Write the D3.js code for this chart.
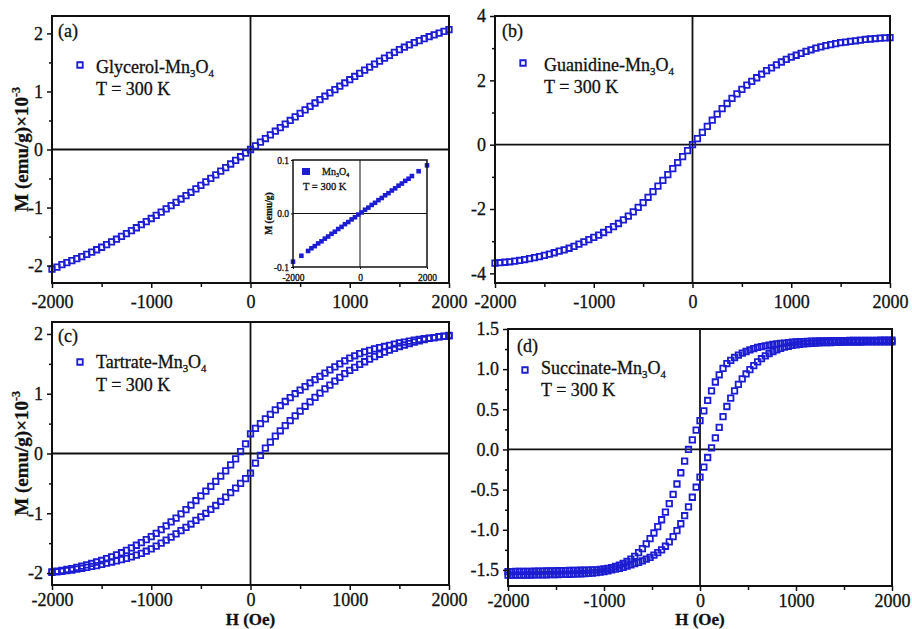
<!DOCTYPE html>
<html>
<head>
<meta charset="utf-8">
<script src="https://cdn.jsdelivr.net/npm/d3@7"></script>
<style>
  body { margin: 0; background: #fff; }
  svg text { font-family: "Liberation Serif", "Times New Roman", serif; fill: #111; stroke: #111; stroke-width: 0.3; }
</style>
</head>
<body>
<svg id="fig" width="912" height="629"></svg>
<script>
// ---------- data (magnetisation M in emu/g x 10^-3 vs applied field H in Oe) ----------
const fieldStep50 = [-2000,-1950,-1900,-1850,-1800,-1750,-1700,-1650,-1600,-1550,-1500,-1450,-1400,-1350,-1300,-1250,-1200,-1150,-1100,-1050,-1000,-950,-900,-850,-800,-750,-700,-650,-600,-550,-500,-450,-400,-350,-300,-250,-200,-150,-100,-50,0,50,100,150,200,250,300,350,400,450,500,550,600,650,700,750,800,850,900,950,1000,1050,1100,1150,1200,1250,1300,1350,1400,1450,1500,1550,1600,1650,1700,1750,1800,1850,1900,1950,2000];
const fieldStep40 = [-2000,-1960,-1920,-1880,-1840,-1800,-1760,-1720,-1680,-1640,-1600,-1560,-1520,-1480,-1440,-1400,-1360,-1320,-1280,-1240,-1200,-1160,-1120,-1080,-1040,-1000,-960,-920,-880,-840,-800,-760,-720,-680,-640,-600,-560,-520,-480,-440,-400,-360,-320,-280,-240,-200,-160,-120,-80,-40,0,40,80,120,160,200,240,280,320,360,400,440,480,520,560,600,640,680,720,760,800,840,880,920,960,1000,1040,1080,1120,1160,1200,1240,1280,1320,1360,1400,1440,1480,1520,1560,1600,1640,1680,1720,1760,1800,1840,1880,1920,1960,2000];

const glycerolM = [-2.06,-2.025,-1.983,-1.95,-1.916,-1.881,-1.845,-1.807,-1.768,-1.727,-1.684,-1.639,-1.593,-1.546,-1.498,-1.449,-1.399,-1.348,-1.296,-1.243,-1.189,-1.134,-1.079,-1.023,-0.967,-0.91,-0.853,-0.795,-0.737,-0.678,-0.618,-0.558,-0.497,-0.436,-0.374,-0.312,-0.25,-0.188,-0.125,-0.062,0,0.063,0.126,0.189,0.252,0.315,0.377,0.439,0.5,0.561,0.622,0.682,0.742,0.801,0.86,0.918,0.976,1.033,1.09,1.146,1.202,1.258,1.313,1.367,1.42,1.472,1.523,1.573,1.623,1.672,1.72,1.762,1.802,1.84,1.876,1.91,1.943,1.975,2.006,2.036,2.065];

const guanidineM = [-3.68,-3.67,-3.655,-3.64,-3.62,-3.60,-3.57,-3.54,-3.51,-3.48,-3.44,-3.40,-3.36,-3.31,-3.27,-3.22,-3.16,-3.09,-3.02,-2.95,-2.88,-2.81,-2.73,-2.64,-2.55,-2.45,-2.34,-2.22,-2.09,-1.95,-1.80,-1.635,-1.46,-1.29,-1.11,-0.93,-0.745,-0.555,-0.37,-0.185,0,0.19,0.38,0.57,0.76,0.95,1.12,1.28,1.44,1.58,1.72,1.85,1.97,2.08,2.19,2.30,2.39,2.48,2.57,2.65,2.72,2.78,2.84,2.90,2.95,3.00,3.04,3.08,3.11,3.14,3.17,3.19,3.21,3.23,3.25,3.27,3.285,3.30,3.31,3.32,3.33];

// hysteresis: field decreasing (upper branch) and field increasing (lower branch)
const tartrateDown = [-1.98,-1.97,-1.955,-1.94,-1.925,-1.905,-1.885,-1.865,-1.84,-1.815,-1.79,-1.76,-1.73,-1.695,-1.66,-1.62,-1.58,-1.535,-1.49,-1.44,-1.39,-1.335,-1.275,-1.21,-1.145,-1.08,-1.01,-0.94,-0.865,-0.79,-0.71,-0.63,-0.55,-0.465,-0.38,-0.29,-0.19,-0.09,0.03,0.16,0.33,0.42,0.50,0.58,0.655,0.73,0.80,0.87,0.935,1.00,1.06,1.12,1.18,1.235,1.29,1.345,1.40,1.45,1.50,1.55,1.595,1.635,1.67,1.70,1.725,1.75,1.77,1.79,1.81,1.83,1.85,1.865,1.88,1.895,1.91,1.92,1.93,1.94,1.95,1.96,1.97];
const tartrateUp = [-1.99,-1.98,-1.97,-1.96,-1.95,-1.935,-1.92,-1.905,-1.89,-1.875,-1.855,-1.835,-1.815,-1.795,-1.775,-1.755,-1.73,-1.70,-1.67,-1.635,-1.595,-1.55,-1.50,-1.45,-1.40,-1.345,-1.29,-1.235,-1.18,-1.12,-1.06,-1.00,-0.935,-0.87,-0.80,-0.73,-0.655,-0.58,-0.50,-0.42,-0.33,-0.16,-0.03,0.09,0.19,0.29,0.38,0.465,0.55,0.63,0.71,0.79,0.865,0.94,1.01,1.08,1.145,1.21,1.275,1.335,1.39,1.44,1.49,1.535,1.58,1.62,1.66,1.695,1.73,1.76,1.79,1.815,1.84,1.865,1.885,1.905,1.925,1.94,1.955,1.965,1.975];

// succinate values in emu/g (no 10^-3 factor)
const succinateDown = [-1.52,-1.52,-1.519,-1.519,-1.518,-1.518,-1.517,-1.516,-1.515,-1.514,-1.513,-1.512,-1.511,-1.51,-1.509,-1.508,-1.507,-1.506,-1.505,-1.504,-1.503,-1.502,-1.50,-1.498,-1.494,-1.488,-1.48,-1.47,-1.457,-1.44,-1.42,-1.395,-1.365,-1.33,-1.285,-1.235,-1.175,-1.11,-1.04,-0.96,-0.875,-0.78,-0.675,-0.56,-0.43,-0.29,-0.145,0.0,0.12,0.24,0.36,0.48,0.61,0.73,0.84,0.93,1.01,1.07,1.11,1.145,1.175,1.20,1.22,1.24,1.255,1.27,1.28,1.29,1.30,1.308,1.315,1.32,1.325,1.33,1.335,1.34,1.342,1.344,1.346,1.348,1.35,1.351,1.352,1.353,1.354,1.355,1.355,1.356,1.356,1.357,1.357,1.358,1.358,1.358,1.359,1.359,1.359,1.36,1.36,1.36,1.36];
const succinateUp = [-1.565,-1.565,-1.565,-1.564,-1.564,-1.563,-1.563,-1.562,-1.562,-1.561,-1.56,-1.559,-1.558,-1.557,-1.556,-1.555,-1.554,-1.552,-1.55,-1.548,-1.545,-1.542,-1.538,-1.533,-1.527,-1.52,-1.511,-1.50,-1.49,-1.48,-1.467,-1.453,-1.438,-1.422,-1.405,-1.387,-1.366,-1.343,-1.315,-1.285,-1.25,-1.205,-1.15,-1.085,-1.01,-0.925,-0.825,-0.715,-0.595,-0.47,-0.345,-0.22,-0.10,0.02,0.145,0.275,0.41,0.535,0.64,0.73,0.81,0.88,0.94,0.995,1.045,1.09,1.13,1.165,1.195,1.22,1.24,1.258,1.273,1.285,1.295,1.303,1.31,1.315,1.319,1.322,1.325,1.327,1.329,1.331,1.332,1.333,1.334,1.335,1.336,1.337,1.337,1.338,1.338,1.339,1.339,1.34,1.34,1.34,1.34,1.34,1.34];

// inset: bulk Mn3O4, emu/g
const insetField = [-2000,-1750,-1550,-1450,-1350,-1250,-1150,-1050,-950,-850,-750,-650,-550,-450,-350,-250,-150,-50,50,150,250,350,450,550,650,750,850,950,1050,1150,1250,1350,1450,1550,1750,2000];
const insetM = [-0.090,-0.079,-0.070,-0.065,-0.061,-0.056,-0.052,-0.047,-0.043,-0.038,-0.034,-0.029,-0.025,-0.020,-0.016,-0.011,-0.007,-0.002,0.002,0.007,0.011,0.016,0.020,0.025,0.029,0.034,0.038,0.043,0.047,0.052,0.056,0.061,0.065,0.070,0.079,0.090];

// tick values
const xTickValues = [-2000, -1000, 0, 1000, 2000];
const xMinorValues = [-1500, -500, 500, 1500];
const yTicksAC = [-2, -1, 0, 1, 2];
const yMinorAC = [-1.5, -0.5, 0.5, 1.5];
const yTicksB = [-4, -2, 0, 2, 4];
const yMinorB = [-3, -1, 1, 3];
const yTicksD = [-1.5, -1.0, -0.5, 0.0, 0.5, 1.0, 1.5];
const yMinorD = [-1.25, -0.75, -0.25, 0.25, 0.75, 1.25];
const insetXTicks = [-2000, 0, 2000];
const insetYTicks = [-0.1, 0.0, 0.1];

// ---------- drawing ----------
const svg = d3.select("#fig");
const BLUE = "#1c1cd2";
const openSquare = d3.symbol(d3.symbolSquare, 30);

// text with chemical-formula subscripts; parts: strings or {sub: "..."} / {sup: "..."}
function richText(g, x, y, parts, size, attrs = {}) {
  const t = g.append("text").attr("x", x).attr("y", y).attr("font-size", size);
  Object.entries(attrs).forEach(([k, v]) => t.attr(k, v));
  let shifted = false;
  parts.forEach(p => {
    if (typeof p === "string") {
      t.append("tspan").attr("dy", shifted ? -size * 0.22 : 0).text(p);
      shifted = false;
    } else if (p.sub) {
      t.append("tspan").attr("dy", size * 0.22).attr("font-size", size * 0.6).text(p.sub);
      shifted = true;
    } else if (p.sup) {
      t.append("tspan").attr("dy", -size * 0.4).attr("font-size", size * 0.62).text(p.sup);
    }
  });
  return t;
}

function fmtInt(d) { return String(d); }

const panels = [
  { key: "a", left: 52, right: 449, top: 16, bottom: 283, yDomain: [-2.3, 2.3],
    yTicks: yTicksAC, yMinor: yMinorAC, yFmt: fmtInt, yLabel: true, xLabel: false,
    tag: [58, 37], legend: { mx: 80, my: 65, tx: 96, ty1: 73, ty2: 95 },
    name: "Glycerol-Mn",
    series: [{ field: fieldStep50, values: glycerolM }] },
  { key: "b", left: 495, right: 890, top: 16, bottom: 283, yDomain: [-4.3, 4.0],
    yTicks: yTicksB, yMinor: yMinorB, yFmt: fmtInt, yLabel: false, xLabel: false,
    tag: [502, 37], legend: { mx: 523, my: 63, tx: 544, ty1: 71, ty2: 93 },
    name: "Guanidine-Mn",
    series: [{ field: fieldStep50, values: guanidineM }] },
  { key: "c", left: 52, right: 449, top: 322, bottom: 585, yDomain: [-2.2, 2.2],
    yTicks: yTicksAC, yMinor: yMinorAC, yFmt: fmtInt, yLabel: true, xLabel: true,
    tag: [58, 342], legend: { mx: 80, my: 362, tx: 96, ty1: 368, ty2: 391 },
    name: "Tartrate-Mn",
    series: [{ field: fieldStep50, values: tartrateDown }, { field: fieldStep50, values: tartrateUp }] },
  { key: "d", left: 508, right: 892, top: 329, bottom: 586, yDomain: [-1.7, 1.5],
    yTicks: yTicksD, yMinor: yMinorD, yFmt: d => d.toFixed(1), yLabel: false, xLabel: true,
    tag: [517, 352], legend: { mx: 525, my: 370, tx: 541, ty1: 374, ty2: 396 },
    name: "Succinate-Mn",
    series: [{ field: fieldStep40, values: succinateDown }, { field: fieldStep40, values: succinateUp }] }
];

function styleAxis(sel, size) {
  sel.attr("font-family", null).attr("font-size", null);
  sel.select(".domain").remove();
  sel.selectAll(".tick line").attr("stroke", "#111").attr("stroke-width", 1.5);
  sel.selectAll(".tick text").attr("font-size", size).attr("fill", "#111");
}

panels.forEach(p => {
  const x = d3.scaleLinear().domain([-2000, 2000]).range([p.left, p.right]);
  const y = d3.scaleLinear().domain(p.yDomain).range([p.bottom, p.top]);
  const g = svg.append("g").attr("class", "panel-" + p.key);

  // zero field / zero moment cross-hair
  g.append("line").attr("x1", p.left).attr("x2", p.right).attr("y1", y(0)).attr("y2", y(0))
    .attr("stroke", "#111").attr("stroke-width", 1.8);
  g.append("line").attr("x1", x(0)).attr("x2", x(0)).attr("y1", p.top).attr("y2", p.bottom)
    .attr("stroke", "#111").attr("stroke-width", 1.8);

  // measured points
  p.series.forEach(s => {
    g.append("g").selectAll("path")
      .data(d3.zip(s.field, s.values))
      .join("path")
      .attr("transform", d => `translate(${x(d[0])},${y(d[1])})`)
      .attr("d", openSquare)
      .attr("fill", "none").attr("stroke", BLUE).attr("stroke-width", 1.8);
  });

  // axes (labels of the lower row sit a little higher to clear the H label)
  const labelDrop = p.xLabel ? 21 : 25;
  const xa = g.append("g").attr("transform", `translate(0,${p.bottom})`)
    .call(d3.axisBottom(x).tickValues(xTickValues).tickSize(5).tickFormat(fmtInt));
  styleAxis(xa, 18);
  xa.selectAll(".tick text").attr("y", labelDrop).attr("dy", null);
  const xm = g.append("g").attr("transform", `translate(0,${p.bottom})`)
    .call(d3.axisBottom(x).tickValues(xMinorValues).tickSize(4).tickFormat(""));
  styleAxis(xm, 18);

  const ya = g.append("g").attr("transform", `translate(${p.left},0)`)
    .call(d3.axisLeft(y).tickValues(p.yTicks).tickSize(5).tickPadding(4).tickFormat(p.yFmt));
  styleAxis(ya, 18);
  const ym = g.append("g").attr("transform", `translate(${p.left},0)`)
    .call(d3.axisLeft(y).tickValues(p.yMinor).tickSize(3).tickFormat(""));
  styleAxis(ym, 18);

  // frame
  g.append("rect").attr("x", p.left).attr("y", p.top)
    .attr("width", p.right - p.left).attr("height", p.bottom - p.top)
    .attr("fill", "none").attr("stroke", "#111").attr("stroke-width", 2);

  // panel tag and legend
  g.append("text").attr("x", p.tag[0]).attr("y", p.tag[1]).attr("font-size", 18).text(`(${p.key})`);
  const L = p.legend;
  g.append("path").attr("transform", `translate(${L.mx},${L.my})`).attr("d", openSquare)
    .attr("fill", "none").attr("stroke", BLUE).attr("stroke-width", 1.8);
  richText(g, L.tx, L.ty1, [p.name, { sub: "3" }, "O", { sub: "4" }], 18);
  g.append("text").attr("x", L.tx).attr("y", L.ty2).attr("font-size", 18).text("T = 300 K");

  if (p.yLabel) {
    const cy = (p.top + p.bottom) / 2;
    richText(g, 0, 0, ["M (emu/g)\u00d710", { sup: "-3" }], 19,
      { "font-weight": "bold", "text-anchor": "middle", transform: `translate(28,${cy}) rotate(-90)` });
  }
  if (p.xLabel) {
    g.append("text").attr("x", (p.left + p.right) / 2).attr("y", 625)
      .attr("text-anchor", "middle").attr("font-size", 17).attr("font-weight", "bold").text("H (Oe)");
  }
});

// ---------- inset of panel (a): bulk Mn3O4 ----------
(function drawInset() {
  const box = { left: 293, right: 427, top: 160, bottom: 267 };
  const x = d3.scaleLinear().domain([-2000, 2000]).range([box.left, box.right]);
  const y = d3.scaleLinear().domain([-0.1, 0.1]).range([box.bottom, box.top]);
  const g = svg.append("g").attr("class", "inset");
  g.append("rect").attr("x", box.left).attr("y", box.top)
    .attr("width", box.right - box.left).attr("height", box.bottom - box.top).attr("fill", "#fff");
  g.append("line").attr("x1", box.left).attr("x2", box.right).attr("y1", y(0)).attr("y2", y(0))
    .attr("stroke", "#111").attr("stroke-width", 1);
  g.append("line").attr("x1", x(0)).attr("x2", x(0)).attr("y1", box.top).attr("y2", box.bottom)
    .attr("stroke", "#111").attr("stroke-width", 1);
  g.append("g").selectAll("path")
    .data(d3.zip(insetField, insetM))
    .join("path")
    .attr("transform", d => `translate(${x(d[0])},${y(d[1])})`)
    .attr("d", d3.symbol(d3.symbolSquare, 21))
    .attr("fill", BLUE);

  const xa = g.append("g").attr("transform", `translate(0,${box.bottom})`)
    .call(d3.axisBottom(x).tickValues(insetXTicks).tickSize(2).tickFormat(fmtInt));
  styleAxis(xa, 9.5);
  xa.selectAll(".tick line").attr("stroke-width", 1);
  xa.selectAll(".tick text").attr("y", 14).attr("dy", null).attr("stroke-width", 0.15);
  const ya = g.append("g").attr("transform", `translate(${box.left},0)`)
    .call(d3.axisLeft(y).tickValues(insetYTicks).tickSize(2).tickPadding(2).tickFormat(d => d.toFixed(1)));
  styleAxis(ya, 9.5);
  ya.selectAll(".tick line").attr("stroke-width", 1);
  ya.selectAll(".tick text").attr("stroke-width", 0.15);

  g.append("rect").attr("x", box.left).attr("y", box.top)
    .attr("width", box.right - box.left).attr("height", box.bottom - box.top)
    .attr("fill", "none").attr("stroke", "#111").attr("stroke-width", 1.5);

  g.append("rect").attr("x", 302).attr("y", 168).attr("width", 8).attr("height", 7).attr("fill", BLUE);
  richText(g, 322, 175, ["Mn", { sub: "3" }, "O", { sub: "4" }], 10).attr("stroke-width", 0.15);
  g.append("text").attr("x", 303).attr("y", 190).attr("font-size", 10.5).attr("stroke-width", 0.15).text("T = 300 K");
  g.append("text").attr("font-size", 9.5).attr("font-weight", "bold").attr("text-anchor", "middle")
    .attr("stroke-width", 0.1)
    .attr("transform", `translate(272,${y(0)}) rotate(-90)`).text("M (emu/g)");
})();
</script>
</body>
</html>
